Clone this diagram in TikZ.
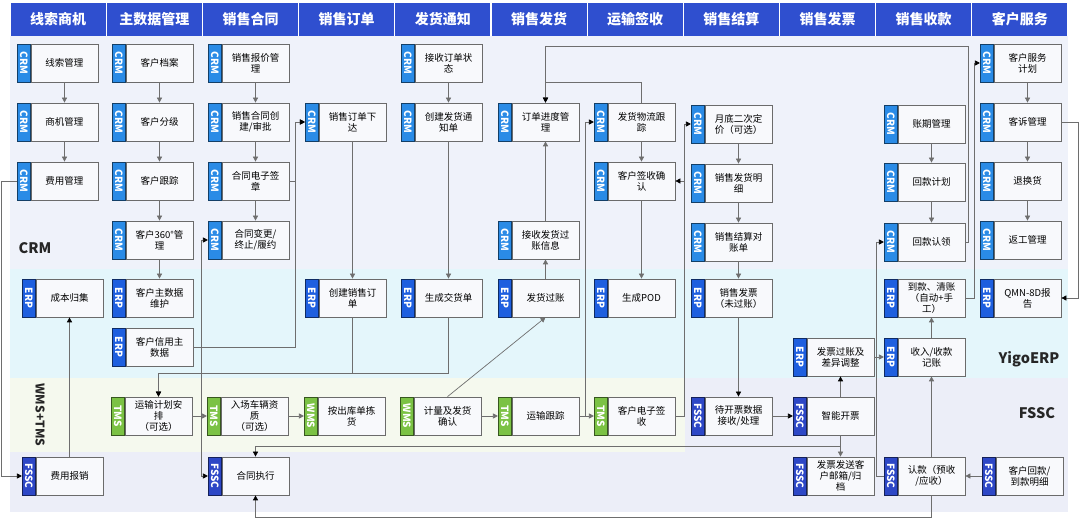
\documentclass[tikz,border=0pt]{standalone}
\usepackage{graphicx}
\usepackage{fontspec}
\setmainfont{Noto Sans CJK SC}
\usetikzlibrary{positioning}
\usetikzlibrary{arrows.meta}

\definecolor{headblue}{HTML}{2F4FCF}
\definecolor{crmblue}{HTML}{2A8BE6}
\definecolor{erpblue}{HTML}{1E5FDF}
\definecolor{fsscblue}{HTML}{2D47C6}
\definecolor{tmsgreen}{HTML}{7BC244}
\definecolor{lanecrm}{HTML}{EFF2FA}
\definecolor{laneerp}{HTML}{E4F6FB}
\definecolor{lanewms}{HTML}{F5F9EE}
\definecolor{lanefssc}{HTML}{ECEEF8}
\definecolor{boxfill}{HTML}{F8F9FC}
\definecolor{boxline}{HTML}{6B6B6B}
\definecolor{wire}{HTML}{6E6E6E}

\begin{document}
\begin{tikzpicture}[x=1pt, y=-1pt,
		head/.style={fill=headblue, text=white, font=\bfseries\fontsize{14}{16}\selectfont, minimum width=95pt, minimum height=33pt, inner sep=0pt},
		body/.style={draw=boxline, line width=0.7pt, fill=boxfill, minimum width=67pt, minimum height=38pt, text width=62pt, align=center, inner sep=0pt, font=\fontsize{9.5}{11}\selectfont},
		tag/.style={line width=0.7pt, minimum width=13pt, minimum height=38pt, inner sep=0pt, text=white, font=\bfseries\fontsize{10}{11}\selectfont},
		crm/.style={tag, fill=crmblue, draw=crmblue!45!black},
		erp/.style={tag, fill=erpblue, draw=erpblue!45!black},
		fssc/.style={tag, fill=fsscblue, draw=fsscblue!45!black},
		tms/.style={tag, fill=tmsgreen, draw=tmsgreen!45!black},
		lanetitle/.style={font=\bfseries\fontsize{14.5}{16}\selectfont, text=black!85},
		flow/.style={draw=wire, line width=0.7pt, -{Triangle[length=5pt, width=5pt]}},
		link/.style={draw=wire, line width=0.7pt, -{Triangle[length=5pt, width=5pt, color=black]}}]
			\useasboundingbox (0,0) rectangle (1080,518);
			% lanes
			\fill[lanecrm] (10,36) rectangle (1068,269);
			\fill[laneerp] (10,269) rectangle (1068,378);
			\fill[lanewms] (10,378) rectangle (685,452);
			\fill[lanefssc] (685,378) rectangle (1068,512);
			\fill[lanefssc] (10,452) rectangle (685,512);
			\node[lanetitle] (lane-crm) at (35, 248) {CRM};
			\node[lanetitle, font=\bfseries\fontsize{12}{14}\selectfont, rotate=-90] (lane-wms) at (40, 415) {WMS+TMS};
			\node[lanetitle] (lane-erp) at (1029, 359) {YigoERP};
			\node[lanetitle] (lane-fssc) at (1037, 413) {FSSC};
			% header
			\node[head] (head-0) at (58.1, 19.5) {线索商机};
			\node[head] (head-1) at (154.3, 19.5) {主数据管理};
			\node[head] (head-2) at (250.5, 19.5) {销售合同};
			\node[head] (head-3) at (346.6, 19.5) {销售订单};
			\node[head] (head-4) at (442.8, 19.5) {发货通知};
			\node[head] (head-5) at (539.0, 19.5) {销售发货};
			\node[head] (head-6) at (635.2, 19.5) {运输签收};
			\node[head] (head-7) at (731.4, 19.5) {销售结算};
			\node[head] (head-8) at (827.5, 19.5) {销售发票};
			\node[head] (head-9) at (923.7, 19.5) {销售收款};
			\node[head] (head-10) at (1019.9, 19.5) {客户服务};
			% boxes
			\node[body] (box-0-0) at (64.5, 63) {线索管理};
			\node[body] (box-0-1) at (64.5, 122) {商机管理};
			\node[body] (box-0-2) at (64.5, 181) {费用管理};
			\node[body] (box-0-4) at (69.5, 298) {成本归集};
			\node[body] (box-0-7) at (69.5, 476) {费用报销};
			\node[body] (box-1-0) at (159.5, 63) {客户档案};
			\node[body] (box-1-1) at (159.5, 122) {客户分级};
			\node[body] (box-1-2) at (159.5, 181) {客户跟踪};
			\node[body] (box-1-3) at (159.5, 240) {客户360°管\\理};
			\node[body] (box-1-4) at (159.5, 298) {客户主数据\\维护};
			\node[body] (box-1-5) at (159.5, 347) {客户信用主\\数据};
			\node[body] (box-1-6) at (158.5, 416) {运输计划安\\排\\（可选）};
			\node[body] (box-2-0) at (255.5, 63) {销售报价管\\理};
			\node[body] (box-2-1) at (255.5, 122) {销售合同创\\建/审批};
			\node[body] (box-2-2) at (255.5, 181) {合同电子签\\章};
			\node[body] (box-2-3) at (255.5, 240) {合同变更/\\终止/履约};
			\node[body] (box-2-6) at (254.5, 416) {入场车辆资\\质\\（可选）};
			\node[body] (box-2-7) at (255.5, 476) {合同执行};
			\node[body] (box-3-1) at (352.5, 122) {销售订单下\\达};
			\node[body] (box-3-4) at (352.5, 298) {创建销售订\\单};
			\node[body] (box-3-6) at (351.5, 416) {按出库单拣\\货};
			\node[body] (box-4-0) at (448.5, 63) {接收订单状\\态};
			\node[body] (box-4-1) at (448.5, 122) {创建发货通\\知单};
			\node[body] (box-4-4) at (448.5, 298) {生成交货单};
			\node[body] (box-4-6) at (447.5, 416) {计量及发货\\确认};
			\node[body] (box-5-1) at (545.5, 122) {订单进度管\\理};
			\node[body] (box-5-3) at (545.5, 240) {接收发货过\\账信息};
			\node[body] (box-5-4) at (545.5, 298) {发货过账};
			\node[body] (box-5-6) at (545.5, 416) {运输跟踪};
			\node[body] (box-6-1) at (641.5, 122) {发货物流跟\\踪};
			\node[body] (box-6-2) at (641.5, 181) {客户签收确\\认};
			\node[body] (box-6-4) at (641.5, 298) {生成POD};
			\node[body] (box-6-6) at (641.5, 416) {客户电子签\\收};
			\node[body] (box-7-1) at (738.5, 124) {月底二次定\\价（可选）};
			\node[body] (box-7-2) at (738.5, 183) {销售发货明\\细};
			\node[body] (box-7-3) at (738.5, 242) {销售结算对\\账单};
			\node[body] (box-7-4) at (738.5, 298) {销售发票\\（未过账）};
			\node[body] (box-7-6) at (738.5, 416) {待开票数据\\接收/处理};
			\node[body] (box-8-5) at (840.5, 357) {发票过账及\\差异调整};
			\node[body] (box-8-6) at (840.5, 416) {智能开票};
			\node[body] (box-8-7) at (840.5, 476) {发票发送客\\户邮箱/归\\档};
			\node[body] (box-9-1) at (931.5, 124) {账期管理};
			\node[body] (box-9-2) at (931.5, 182) {回款计划};
			\node[body] (box-9-3) at (931.5, 242) {回款认领};
			\node[body] (box-9-4) at (931.5, 298) {到款、清账\\（自动+手\\工）};
			\node[body] (box-9-5) at (931.5, 357) {收入/收款\\记账};
			\node[body] (box-9-7) at (931.5, 476) {认款（预收\\/应收）};
			\node[body] (box-10-0) at (1027.5, 63) {客户服务\\计划};
			\node[body] (box-10-1) at (1027.5, 122) {客诉管理};
			\node[body] (box-10-2) at (1027.5, 181) {退换货};
			\node[body] (box-10-3) at (1027.5, 240) {返工管理};
			\node[body] (box-10-4) at (1027.5, 298) {QMN-8D报\\告};
			\node[body] (box-10-7) at (1029.5, 476) {客户回款/\\到款明细};
			% tags
			\node[crm, left=0pt of box-0-0] (tag-0-0) {\rotatebox{-90}{CRM}};
			\node[crm, left=0pt of box-0-1] (tag-0-1) {\rotatebox{-90}{CRM}};
			\node[crm, left=0pt of box-0-2] (tag-0-2) {\rotatebox{-90}{CRM}};
			\node[erp, left=0pt of box-0-4] (tag-0-4) {\rotatebox{-90}{ERP}};
			\node[fssc, left=0pt of box-0-7] (tag-0-7) {\rotatebox{-90}{FSSC}};
			\node[crm, left=0pt of box-1-0] (tag-1-0) {\rotatebox{-90}{CRM}};
			\node[crm, left=0pt of box-1-1] (tag-1-1) {\rotatebox{-90}{CRM}};
			\node[crm, left=0pt of box-1-2] (tag-1-2) {\rotatebox{-90}{CRM}};
			\node[crm, left=0pt of box-1-3] (tag-1-3) {\rotatebox{-90}{CRM}};
			\node[erp, left=0pt of box-1-4] (tag-1-4) {\rotatebox{-90}{ERP}};
			\node[erp, left=0pt of box-1-5] (tag-1-5) {\rotatebox{-90}{ERP}};
			\node[tms, left=0pt of box-1-6] (tag-1-6) {\rotatebox{-90}{TMS}};
			\node[crm, left=0pt of box-2-0] (tag-2-0) {\rotatebox{-90}{CRM}};
			\node[crm, left=0pt of box-2-1] (tag-2-1) {\rotatebox{-90}{CRM}};
			\node[crm, left=0pt of box-2-2] (tag-2-2) {\rotatebox{-90}{CRM}};
			\node[crm, left=0pt of box-2-3] (tag-2-3) {\rotatebox{-90}{CRM}};
			\node[tms, left=0pt of box-2-6] (tag-2-6) {\rotatebox{-90}{TMS}};
			\node[fssc, left=0pt of box-2-7] (tag-2-7) {\rotatebox{-90}{FSSC}};
			\node[crm, left=0pt of box-3-1] (tag-3-1) {\rotatebox{-90}{CRM}};
			\node[erp, left=0pt of box-3-4] (tag-3-4) {\rotatebox{-90}{ERP}};
			\node[tms, left=0pt of box-3-6] (tag-3-6) {\rotatebox{-90}{WMS}};
			\node[crm, left=0pt of box-4-0] (tag-4-0) {\rotatebox{-90}{CRM}};
			\node[crm, left=0pt of box-4-1] (tag-4-1) {\rotatebox{-90}{CRM}};
			\node[erp, left=0pt of box-4-4] (tag-4-4) {\rotatebox{-90}{ERP}};
			\node[tms, left=0pt of box-4-6] (tag-4-6) {\rotatebox{-90}{WMS}};
			\node[crm, left=0pt of box-5-1] (tag-5-1) {\rotatebox{-90}{CRM}};
			\node[crm, left=0pt of box-5-3] (tag-5-3) {\rotatebox{-90}{CRM}};
			\node[erp, left=0pt of box-5-4] (tag-5-4) {\rotatebox{-90}{ERP}};
			\node[tms, left=0pt of box-5-6] (tag-5-6) {\rotatebox{-90}{TMS}};
			\node[crm, left=0pt of box-6-1] (tag-6-1) {\rotatebox{-90}{CRM}};
			\node[crm, left=0pt of box-6-2] (tag-6-2) {\rotatebox{-90}{CRM}};
			\node[erp, left=0pt of box-6-4] (tag-6-4) {\rotatebox{-90}{ERP}};
			\node[tms, left=0pt of box-6-6] (tag-6-6) {\rotatebox{-90}{TMS}};
			\node[crm, left=0pt of box-7-1] (tag-7-1) {\rotatebox{-90}{CRM}};
			\node[crm, left=0pt of box-7-2] (tag-7-2) {\rotatebox{-90}{CRM}};
			\node[crm, left=0pt of box-7-3] (tag-7-3) {\rotatebox{-90}{CRM}};
			\node[erp, left=0pt of box-7-4] (tag-7-4) {\rotatebox{-90}{ERP}};
			\node[fssc, left=0pt of box-7-6] (tag-7-6) {\rotatebox{-90}{FSSC}};
			\node[erp, left=0pt of box-8-5] (tag-8-5) {\rotatebox{-90}{ERP}};
			\node[fssc, left=0pt of box-8-6] (tag-8-6) {\rotatebox{-90}{FSSC}};
			\node[fssc, left=0pt of box-8-7] (tag-8-7) {\rotatebox{-90}{FSSC}};
			\node[crm, left=0pt of box-9-1] (tag-9-1) {\rotatebox{-90}{CRM}};
			\node[crm, left=0pt of box-9-2] (tag-9-2) {\rotatebox{-90}{CRM}};
			\node[crm, left=0pt of box-9-3] (tag-9-3) {\rotatebox{-90}{CRM}};
			\node[erp, left=0pt of box-9-4] (tag-9-4) {\rotatebox{-90}{ERP}};
			\node[erp, left=0pt of box-9-5] (tag-9-5) {\rotatebox{-90}{ERP}};
			\node[fssc, left=0pt of box-9-7] (tag-9-7) {\rotatebox{-90}{FSSC}};
			\node[crm, left=0pt of box-10-0] (tag-10-0) {\rotatebox{-90}{CRM}};
			\node[crm, left=0pt of box-10-1] (tag-10-1) {\rotatebox{-90}{CRM}};
			\node[crm, left=0pt of box-10-2] (tag-10-2) {\rotatebox{-90}{CRM}};
			\node[crm, left=0pt of box-10-3] (tag-10-3) {\rotatebox{-90}{CRM}};
			\node[erp, left=0pt of box-10-4] (tag-10-4) {\rotatebox{-90}{ERP}};
			\node[fssc, left=0pt of box-10-7] (tag-10-7) {\rotatebox{-90}{FSSC}};
			% straight flows
			\draw[flow] (box-0-0) -- (box-0-1);
			\draw[flow] (box-0-1) -- (box-0-2);
			\draw[flow] (box-1-0) -- (box-1-1);
			\draw[flow] (box-1-1) -- (box-1-2);
			\draw[flow] (box-1-2) -- (box-1-3);
			\draw[flow] (box-1-3) -- (box-1-4);
			\draw[flow] (box-2-0) -- (box-2-1);
			\draw[flow] (box-2-1) -- (box-2-2);
			\draw[flow] (box-2-2) -- (box-2-3);
			\draw[flow] (box-3-1) -- (box-3-4);
			\draw[flow] (box-4-0) -- (box-4-1);
			\draw[flow] (box-4-1) -- (box-4-4);
			\draw[flow] (box-5-4) -- (box-5-3);
			\draw[flow] (box-5-3) -- (box-5-1);
			\draw[flow] (box-6-1) -- (box-6-2);
			\draw[flow] (box-6-2) -- (box-6-4);
			\draw[flow] (box-7-1) -- (box-7-2);
			\draw[flow] (box-7-2) -- (box-7-3);
			\draw[flow] (box-7-3) -- (box-7-4);
			\draw[flow] (box-9-1) -- (box-9-2);
			\draw[flow] (box-9-2) -- (box-9-3);
			\draw[flow] (box-9-5) -- (box-9-4);
			\draw[flow] (box-9-7) -- (box-9-5);
			\draw[flow] (box-10-0) -- (box-10-1);
			\draw[flow] (box-10-1) -- (box-10-2);
			\draw[flow] (box-10-2) -- (box-10-3);
			\draw[flow] (box-8-6) -- (box-8-7);
			\draw[flow] (box-1-6) -- (tag-2-6);
			\draw[flow] (box-2-6) -- (tag-3-6);
			\draw[flow] (box-4-6) -- (tag-5-6);
			\draw[flow] (box-5-6) -- (tag-6-6);
			\draw[flow] (box-8-5) -- (tag-9-5);
			\draw[flow] (tag-10-7) -- (box-9-7);
			\draw[flow] (box-4-6.north) -- (box-5-4.south);
			% routed links
			\draw[link] (box-7-4) -- (box-7-6);
			\draw[link] (box-7-6) -- (tag-8-6);
			\draw[link] (box-8-6) -- (box-8-5);
			\draw[link] (box-0-7) -- (box-0-4);
			\draw[link] (tag-0-2.west) -- ++(-16pt,0) |- (tag-0-7.west);
			\draw[link] (box-2-2.east) -- ++(6pt,0) |- (tag-3-1.west);
			\draw[link] (box-1-5.east) -| ([xshift=6pt]box-2-2.east) |- (tag-3-1.west);
			\draw[link] (box-1-5.east) -- ++(8pt,0) |- (tag-2-3.west);
			\draw[link] (box-1-5.east) -- ++(8pt,0) |- (tag-2-7.west);
			\draw[link] (box-3-4.south) -- ++(0,56) -| (box-1-6.north);
			\draw[link] (box-4-4.south) -- ++(0,56) -| (box-1-6.north);
			\draw[link] (box-5-6.east) -- ++(6pt,0) |- (tag-6-1.west);
			\draw[link] (box-6-6.east) -- ++(9pt,0) |- (box-6-2.east);
			\draw[link] (box-6-6.east) -- ++(9pt,0) |- (tag-7-1.west);
			\draw[link] (box-6-1.north) -- ++(0,-20) -| (box-5-1.north);
			\draw[link] (box-9-3.east) -- ++(3pt,0) |- ([yshift=56pt]box-5-1.north) -- (box-5-1.north);
			\draw[link] (box-9-4.east) -- ++(9pt,0) |- (tag-10-0.west);
			\draw[link] (box-10-1.east) -- ++(17pt,0) |- (box-10-4.east);
			\draw[link] (tag-9-7.west) -- ++(-8pt,0) |- (tag-9-3.west);
			\draw[link] (box-8-6.south) -- ++(0,11) -| (box-2-7.north);
			\draw[link] (box-9-7.south) -- ++(0,22) -| (box-2-7.south);
		\end{tikzpicture}
\end{document}
